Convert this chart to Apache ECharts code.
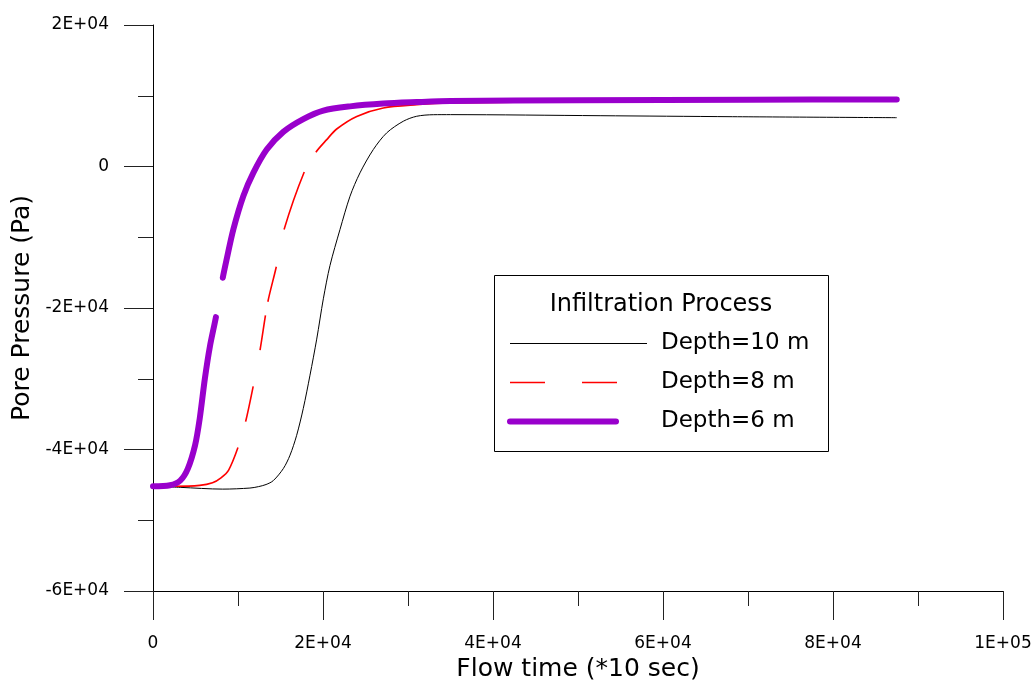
<!DOCTYPE html>
<html>
<head>
<meta charset="utf-8">
<style>
  html, body { margin: 0; padding: 0; background: #ffffff; }
  #chart { width: 1035px; height: 687px; }
</style>
<script src="https://cdn.jsdelivr.net/npm/echarts/dist/echarts.min.js"></script>
</head>
<body>
<div id="chart"></div>
<script>
// values
const depth10Time = [0, 3200, 8200, 11400, 12400, 13300, 14150, 15330, 16120, 16900, 17680, 18470, 19260, 20040, 20820, 22000, 23180, 24350, 25920, 27490, 29450, 31020, 32980, 35000, 52600, 68200, 87500];
const depth10Pres = [-45200, -45350, -45600, -45450, -45250, -44950, -44400, -42700, -40800, -38000, -34200, -29500, -24400, -18700, -14000, -8900, -4200, -900, 2400, 4750, 6400, 7100, 7320, 7330, 7180, 7040, 6900];

const depth8Time = [0, 2600, 5500, 7000, 8000, 8900, 10000, 10900, 11800, 12600, 13500, 14500, 15400, 17800, 19150, 20440, 21610, 23970, 27090, 31020, 34940, 50000, 70000, 87500];
const depth8Pres = [-45200, -45200, -45070, -44700, -44000, -42900, -39700, -36050, -31000, -25900, -19200, -14200, -9000, -750, 2000, 3800, 5300, 7080, 8270, 8730, 8970, 9150, 9250, 9320];

const depth6Time = [0, 2000, 3200, 4100, 4950, 5500, 6100, 6700, 7400, 8200, 8670, 9450, 10620, 11800, 13380, 15330, 17680, 20040, 23180, 27090, 31020, 35000, 50000, 70000, 87500];
const depth6Pres = [-45200, -45050, -44400, -42700, -39400, -35600, -30000, -25400, -21300, -15800, -13100, -8900, -4200, -900, 2400, 4900, 6700, 7900, 8500, 8900, 9100, 9250, 9380, 9440, 9480];

const seriesNames = ['Depth=10 m', 'Depth=8 m', 'Depth=6 m'];
const legendTitle = 'Infiltration Process';

function pairs(xs, ys) {
  return xs.map((x, i) => [x, ys[i]]);
}

// 0 -> "0", 20000 -> "2E+04"
function sciLabel(v) {
  if (v === 0) return '0';
  return v.toExponential(0).toUpperCase().replace(/E([+-])(\d)$/, 'E$10$2');
}

const font = 'DejaVu Sans';
const chart = echarts.init(document.getElementById('chart'));

const option = {
  animation: false,
  backgroundColor: '#ffffff',
  grid: { left: 153, right: 32, top: 25, bottom: 94 },
  xAxis: {
    type: 'value',
    min: 0,
    max: 100000,
    interval: 20000,
    name: 'Flow time (*10 sec)',
    nameLocation: 'middle',
    nameGap: 66,
    nameTextStyle: { fontFamily: font, fontSize: 25, color: '#000' },
    axisLine: { onZero: false, lineStyle: { color: '#000', width: 1 } },
    axisTick: { show: true, inside: false, length: 29, lineStyle: { color: '#222' } },
    minorTick: { show: true, splitNumber: 2, length: 15, lineStyle: { color: '#222' } },
    splitLine: { show: false },
    axisLabel: { margin: 44, fontFamily: font, fontSize: 17, color: '#000', formatter: sciLabel }
  },
  yAxis: {
    type: 'value',
    min: -60000,
    max: 20000,
    interval: 20000,
    name: 'Pore Pressure (Pa)',
    nameLocation: 'middle',
    nameGap: 111,
    nameTextStyle: { fontFamily: font, fontSize: 25, color: '#000' },
    axisLine: { onZero: false, lineStyle: { color: '#000', width: 1 } },
    axisTick: { show: true, inside: false, length: 29, lineStyle: { color: '#222' } },
    minorTick: { show: true, splitNumber: 2, length: 15, lineStyle: { color: '#222' } },
    splitLine: { show: false },
    axisLabel: { margin: 44, fontFamily: font, fontSize: 17, color: '#000', formatter: sciLabel }
  },
  legend: {
    orient: 'vertical',
    left: 507,
    top: 332,
    padding: 0,
    itemWidth: 137,
    itemHeight: 20,
    itemGap: 16,
    textStyle: { fontFamily: font, fontSize: 23, color: '#000', padding: [0, 0, 0, 9] },
    data: [
      { name: seriesNames[0], itemStyle: { opacity: 0 }, lineStyle: { type: 'solid', width: 1 } },
      { name: seriesNames[1], itemStyle: { opacity: 0 }, lineStyle: { type: [35, 37], width: 1.6 } },
      { name: seriesNames[2], itemStyle: { opacity: 0 }, lineStyle: { type: [106, 60], width: 6, cap: 'round' } }
    ]
  },
  graphic: [
    {
      type: 'rect',
      z: 0,
      shape: { x: 494.5, y: 275.5, width: 334, height: 176 },
      style: { fill: '#ffffff', stroke: '#000', lineWidth: 1 }
    },
    {
      type: 'text',
      z: 10,
      x: 661,
      y: 305,
      style: {
        text: legendTitle,
        fontFamily: font,
        fontSize: 24,
        fill: '#000',
        align: 'center',
        verticalAlign: 'middle'
      }
    }
  ],
  series: [
    {
      name: seriesNames[0],
      type: 'line',
      data: pairs(depth10Time, depth10Pres),
      smooth: 0.3,
      symbol: 'none',
      color: '#000000',
      lineStyle: { color: '#000000', width: 1 },
      z: 2
    },
    {
      name: seriesNames[1],
      type: 'line',
      data: pairs(depth8Time, depth8Pres),
      smooth: 0.3,
      symbol: 'none',
      color: '#ff0000',
      lineStyle: { color: '#ff0000', width: 1.6, type: [105, 27, 36, 37, 35, 14, 36, 38, 61, 23, 3000, 0] },
      z: 3
    },
    {
      name: seriesNames[2],
      type: 'line',
      data: pairs(depth6Time, depth6Pres),
      smooth: 0.3,
      symbol: 'none',
      color: '#9900cc',
      lineStyle: { color: '#9900cc', width: 6, cap: 'round', type: [197, 40, 5000, 0] },
      z: 4
    }
  ]
};

chart.setOption(option);
</script>
</body>
</html>
